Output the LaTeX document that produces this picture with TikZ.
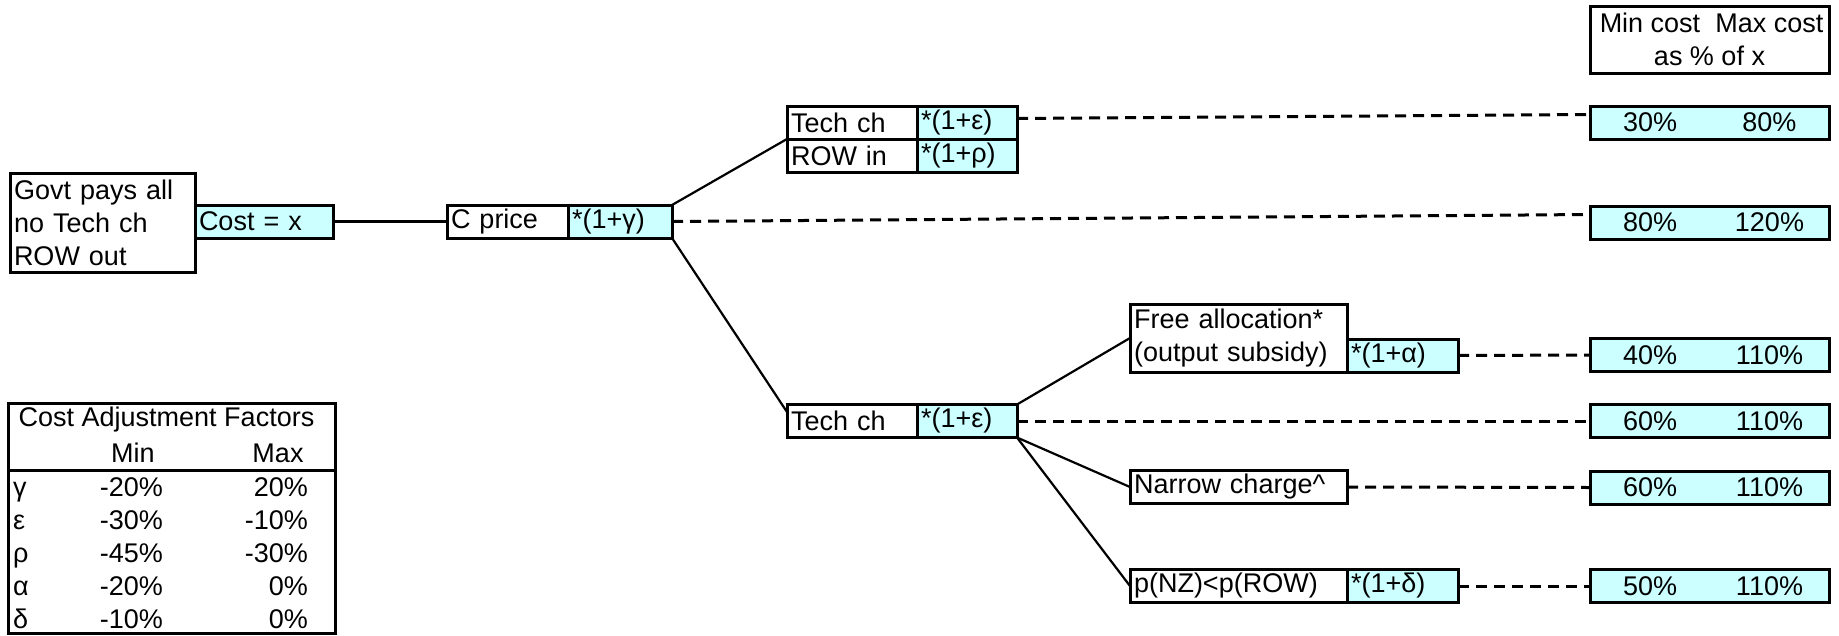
\documentclass[tikz,border=0pt]{standalone}
\usepackage{fontspec}
\setmainfont{Liberation Sans}
\usetikzlibrary{positioning}
\definecolor{paleblue}{HTML}{CCFFFF}

\begin{document}
\begin{tikzpicture}[x=1pt,y=-1pt,
        font=\fontsize{27}{33}\selectfont,
        cell/.style={draw,line width=3pt,outer sep=0pt,inner xsep=4pt,inner ysep=0pt,
                     minimum height=33pt,align=left,anchor=west},
        factor/.style={cell,fill=paleblue},
        res/.style={draw,line width=3pt,fill=paleblue,outer sep=0pt,inner sep=0pt,
                    minimum height=33pt,anchor=west},
        txt/.style={inner sep=0pt},
        link/.style={line width=2.2pt},
        trail/.style={line width=3pt,dash pattern=on 11pt off 7pt}]
    \useasboundingbox (0,0) rectangle (1839,635);

    % tree of cases
    \node[cell,text width=177pt,minimum height=99pt] (govt) at (10,222.5)
        {Govt pays all\\no Tech ch\\ROW out};
    \node[factor,text width=130pt] (cost) at (195,221.5) {Cost = x};
    \node[cell,text width=113pt] (cp) at (447,221.5) {C price};
    \node[factor,text width=96pt,right=0pt of cp] (cpf) {*(1+γ)};

    \node[cell,text width=122pt] (t1) at (787,122.5) {Tech ch};
    \node[factor,text width=92pt,right=0pt of t1] (t1f) {*(1+ε)};
    \node[cell,text width=122pt,below=0pt of t1] (ri) {ROW in};
    \node[factor,text width=92pt,right=0pt of ri] (rif) {*(1+ρ)};

    \node[cell,text width=122pt] (t2) at (787,421) {Tech ch};
    \node[factor,text width=92pt,right=0pt of t2] (t2f) {*(1+ε)};

    \node[cell,text width=209pt,minimum height=68pt] (fa) at (1130,338)
        {Free allocation*\\(output subsidy)};
    \node[factor,text width=103pt,anchor=south west] (faf) at (fa.south east) {*(1+α)};
    \node[cell,text width=209pt] (nc) at (1130,487) {Narrow charge\textasciicircum};
    \node[cell,text width=209pt] (pz) at (1130,586) {p(NZ)<p(ROW)};
    \node[factor,text width=103pt,right=0pt of pz] (pzf) {*(1+δ)};

    % results column
    \node[cell,inner xsep=0pt,minimum height=67pt,align=center] (head) at (1590,39.5)
        {\makebox[120pt]{Min cost}\makebox[119pt]{Max cost}\\as \% of x};
    \foreach \n/\y/\lo/\hi in {r1/122.5/30/80,r2/222.5/80/120,r3/355/40/110,
                               r4/421/60/110,r5/487.5/60/110,r6/586/50/110}
        \node[res] (\n) at (1590,\y) {\makebox[120pt]{\lo\%}\makebox[119pt]{\hi\%}};

    \draw[link] (cost) -- (cp);
    \draw[link] (cpf.north east) -- (t1.south west);
    \draw[link] (cpf.south east) -- ([yshift=9pt]t2.west);
    \draw[link] (t2f.north east) -- (fa.west);
    \draw[link] (t2f.south east) -- (nc.west);
    \draw[link] (t2f.south east) -- (pz.west);

    \draw[trail] ([yshift=4pt]t1f.east) -- ([yshift=8pt]r1.west);
    \draw[trail] (cpf.east) -- ([yshift=8pt]r2.west);
    \draw[trail] (faf.east) -- (r3.west);
    \draw[trail] (t2f.east) -- (r4.west);
    \draw[trail] (nc.east) -- (r5.west);
    \draw[trail] (pzf.east) -- (r6.west);

    % factor table
    \draw[line width=3pt] (8,403) rectangle (335,633);
    \draw[line width=3pt] (8,470) -- (335,470);
    \node[txt] (title) at (166.5,420) {Cost Adjustment Factors};
    \node[txt] (minh) at (133,453) {Min};
    \node[txt] (maxh) at (278,453) {Max};
    \foreach \g/\lo/\hi [count=\i] in {γ/-20/20,ε/-30/-10,ρ/-45/-30,α/-20/0,δ/-10/0}{
        \node[txt,anchor=base west] (g\i) at (13,{463+33*\i}) {\g};
        \node[txt,anchor=base east] (lo\i) at (163,{463+33*\i}) {\lo\%};
        \node[txt,anchor=base east] (hi\i) at (308,{463+33*\i}) {\hi\%};
    }
\end{tikzpicture}
\end{document}
